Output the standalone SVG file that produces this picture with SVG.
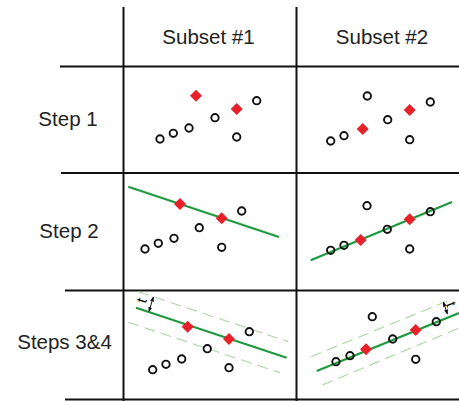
<svg xmlns="http://www.w3.org/2000/svg" width="459" height="401" viewBox="0 0 459 401">
<defs>
<style>
.grid{stroke:#111;stroke-width:2;fill:none}
.lbl{font-family:"Liberation Sans",Arial,sans-serif;font-size:20.5px;fill:#222;text-anchor:middle}
.pt{fill:none;stroke:#111;stroke-width:1.9}
.rd{fill:#e8202a}
.fit{stroke:#1e9a3e;stroke-width:2.2;fill:none}
.band{stroke:#a9d6a0;stroke-width:1.1;stroke-dasharray:11 6;fill:none}
.arr{stroke:#111;stroke-width:1;fill:none;marker-start:url(#ah);marker-end:url(#ah)}
.t{font-family:"Liberation Sans",Arial,sans-serif;font-size:15px;fill:#111;text-anchor:middle}
</style>
<marker id="ah" viewBox="0 0 10 10" refX="9" refY="5" markerWidth="5" markerHeight="5" orient="auto-start-reverse" markerUnits="userSpaceOnUse">
<path d="M0,1 L10,5 L0,9 z" fill="#111"/>
</marker>
<circle id="c" r="3.7" class="pt"/>
<path id="d" d="M0,-6 L6,0 L0,6 L-6,0 z" class="rd"/>
</defs>
<g id="grid">
<line class="grid" x1="123.5" y1="7" x2="123.5" y2="401"/>
<line class="grid" x1="296.5" y1="7" x2="296.5" y2="401"/>
<line class="grid" x1="60" y1="66.5" x2="459" y2="66.5"/>
<line class="grid" x1="61" y1="173" x2="459" y2="173"/>
<line class="grid" x1="65" y1="290.5" x2="459" y2="290.5"/>
<line class="grid" x1="65" y1="399.5" x2="459" y2="399.5"/>
</g>
<g id="labels">
<text class="lbl" x="208.5" y="43.5">Subset #1</text>
<text class="lbl" x="382" y="43.5">Subset #2</text>
<text class="lbl" x="68" y="126">Step 1</text>
<text class="lbl" x="69" y="237.5">Step 2</text>
<text class="lbl" x="64.5" y="348.5">Steps 3&amp;4</text>
</g>
<g id="r1s1">
<use href="#c" x="256.7" y="100.7"/><use href="#c" x="215" y="117.7"/><use href="#c" x="189" y="128"/>
<use href="#c" x="173.3" y="133.3"/><use href="#c" x="160" y="139"/><use href="#c" x="236.7" y="137"/>
<use href="#d" x="196" y="95.7"/><use href="#d" x="236.7" y="109"/>
</g>
<g id="r1s2">
<use href="#c" x="367.3" y="96"/><use href="#c" x="430.3" y="102"/><use href="#c" x="387.7" y="119.7"/>
<use href="#c" x="344" y="135.7"/><use href="#c" x="330.7" y="141"/><use href="#c" x="409.7" y="139.7"/>
<use href="#d" x="409.7" y="110"/><use href="#d" x="362.7" y="129"/>
</g>
<g id="r2s1">
<line class="fit" x1="128.3" y1="186.7" x2="279" y2="237"/>
<use href="#c" x="241.7" y="211"/><use href="#c" x="199.3" y="227.7"/><use href="#c" x="174" y="238.3"/>
<use href="#c" x="158.3" y="243.3"/><use href="#c" x="145" y="249"/><use href="#c" x="221.7" y="247.3"/>
<use href="#d" x="180" y="204"/><use href="#d" x="221.7" y="218.3"/>
</g>
<g id="r2s2">
<line class="fit" x1="310.7" y1="260.3" x2="452" y2="202"/>
<use href="#c" x="367" y="205.7"/><use href="#c" x="430.3" y="211.7"/><use href="#c" x="387.3" y="229.3"/>
<use href="#c" x="344" y="245.3"/><use href="#c" x="330.7" y="250.3"/><use href="#c" x="409.7" y="249"/>
<use href="#d" x="409.7" y="219.3"/><use href="#d" x="360.7" y="240"/>
</g>
<g id="r3s1">
<line class="band" x1="138.3" y1="291.7" x2="288.3" y2="341.7"/>
<line class="band" x1="128.3" y1="322.3" x2="280" y2="372.7"/>
<line class="fit" x1="136" y1="307.7" x2="286.7" y2="357.7"/>
<line class="arr" x1="153.3" y1="297" x2="149" y2="311.5"/>
<text class="t" transform="translate(146.5,302) rotate(-72)">t</text>
<use href="#c" x="249.3" y="331.7"/><use href="#c" x="207.3" y="348.7"/><use href="#c" x="181.7" y="359"/>
<use href="#c" x="166" y="364.3"/><use href="#c" x="152.7" y="369.7"/><use href="#c" x="229" y="367.7"/>
<use href="#d" x="187.7" y="326.7"/><use href="#d" x="229" y="339"/>
</g>
<g id="r3s2">
<line class="band" x1="311" y1="356.7" x2="450" y2="300"/>
<line class="band" x1="322.3" y1="385" x2="459" y2="328"/>
<line class="fit" x1="316.7" y1="371" x2="459" y2="313"/>
<line class="arr" x1="443.3" y1="302" x2="447.5" y2="314"/>
<text class="t" transform="translate(446.5,306) rotate(70)">t</text>
<use href="#c" x="372.3" y="316.7"/><use href="#c" x="436.3" y="321.7"/><use href="#c" x="392.7" y="339"/>
<use href="#c" x="350" y="355.7"/><use href="#c" x="336" y="361.7"/><use href="#c" x="415.7" y="359.3"/>
<use href="#d" x="366" y="349.3"/><use href="#d" x="415.7" y="330"/>
</g>
</svg>
